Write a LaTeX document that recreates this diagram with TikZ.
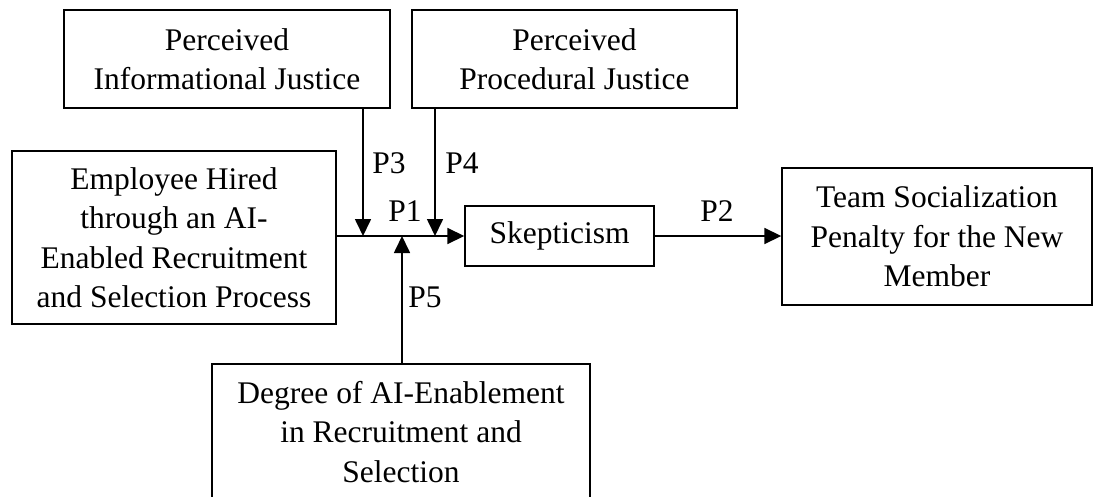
\documentclass[tikz,border=0pt]{standalone}
\usepackage{fontspec}
\setmainfont{Liberation Serif}
\usetikzlibrary{arrows.meta}
\begin{document}
\begin{tikzpicture}[x=1pt,y=-1pt,
  box/.style={draw,line width=1.4pt,inner sep=0pt,align=center,font=\fontsize{31.5}{39.5}\selectfont},
  conn/.style={line width=1.7pt},
  arr/.style={conn,-{Triangle[length=17pt,width=16pt]}},
  lab/.style={font=\fontsize{31.5}{36}\selectfont,inner sep=0pt}]
\useasboundingbox (0,0) rectangle (1099,497);
\node[box,minimum width=326pt,minimum height=98pt] (pij) at (227,59) {Perceived\\Informational Justice};
\node[box,minimum width=325pt,minimum height=98pt] (ppj) at (574.5,59) {Perceived\\Procedural Justice};
\node[box,minimum width=324pt,minimum height=173pt] (emp) at (174,237.5) {Employee Hired\\through an AI-\\Enabled Recruitment\\and Selection Process};
\node[box,minimum width=189pt,minimum height=60pt] (sk) at (559.5,236) {Skepticism};
\node[box,minimum width=310pt,minimum height=137pt] (team) at (937,236.5) {Team Socialization\\Penalty for the New\\Member};
\node[box,minimum width=378pt,minimum height=136pt] (deg) at (401,432) {Degree of AI-Enablement\\in Recruitment and\\Selection};
\coordinate (j3) at (363,236);
\coordinate (j4) at (435,236);
\coordinate (j5) at (402,236);
\draw[arr] (emp.east |- sk.west) -- (sk.west);
\draw[arr] (pij.south -| j3) -- (j3);
\draw[arr] (ppj.south -| j4) -- (j4);
\draw[arr] (deg.north -| j5) -- (j5);
\draw[arr] (sk.east) -- (team.west |- sk.east);
\node[lab] (p3) at (389,163) {P3};
\node[lab] (p4) at (462,163) {P4};
\node[lab] (p1) at (405,211) {P1};
\node[lab] (p2) at (717,211) {P2};
\node[lab] (p5) at (425,297) {P5};
\end{tikzpicture}
\end{document}
